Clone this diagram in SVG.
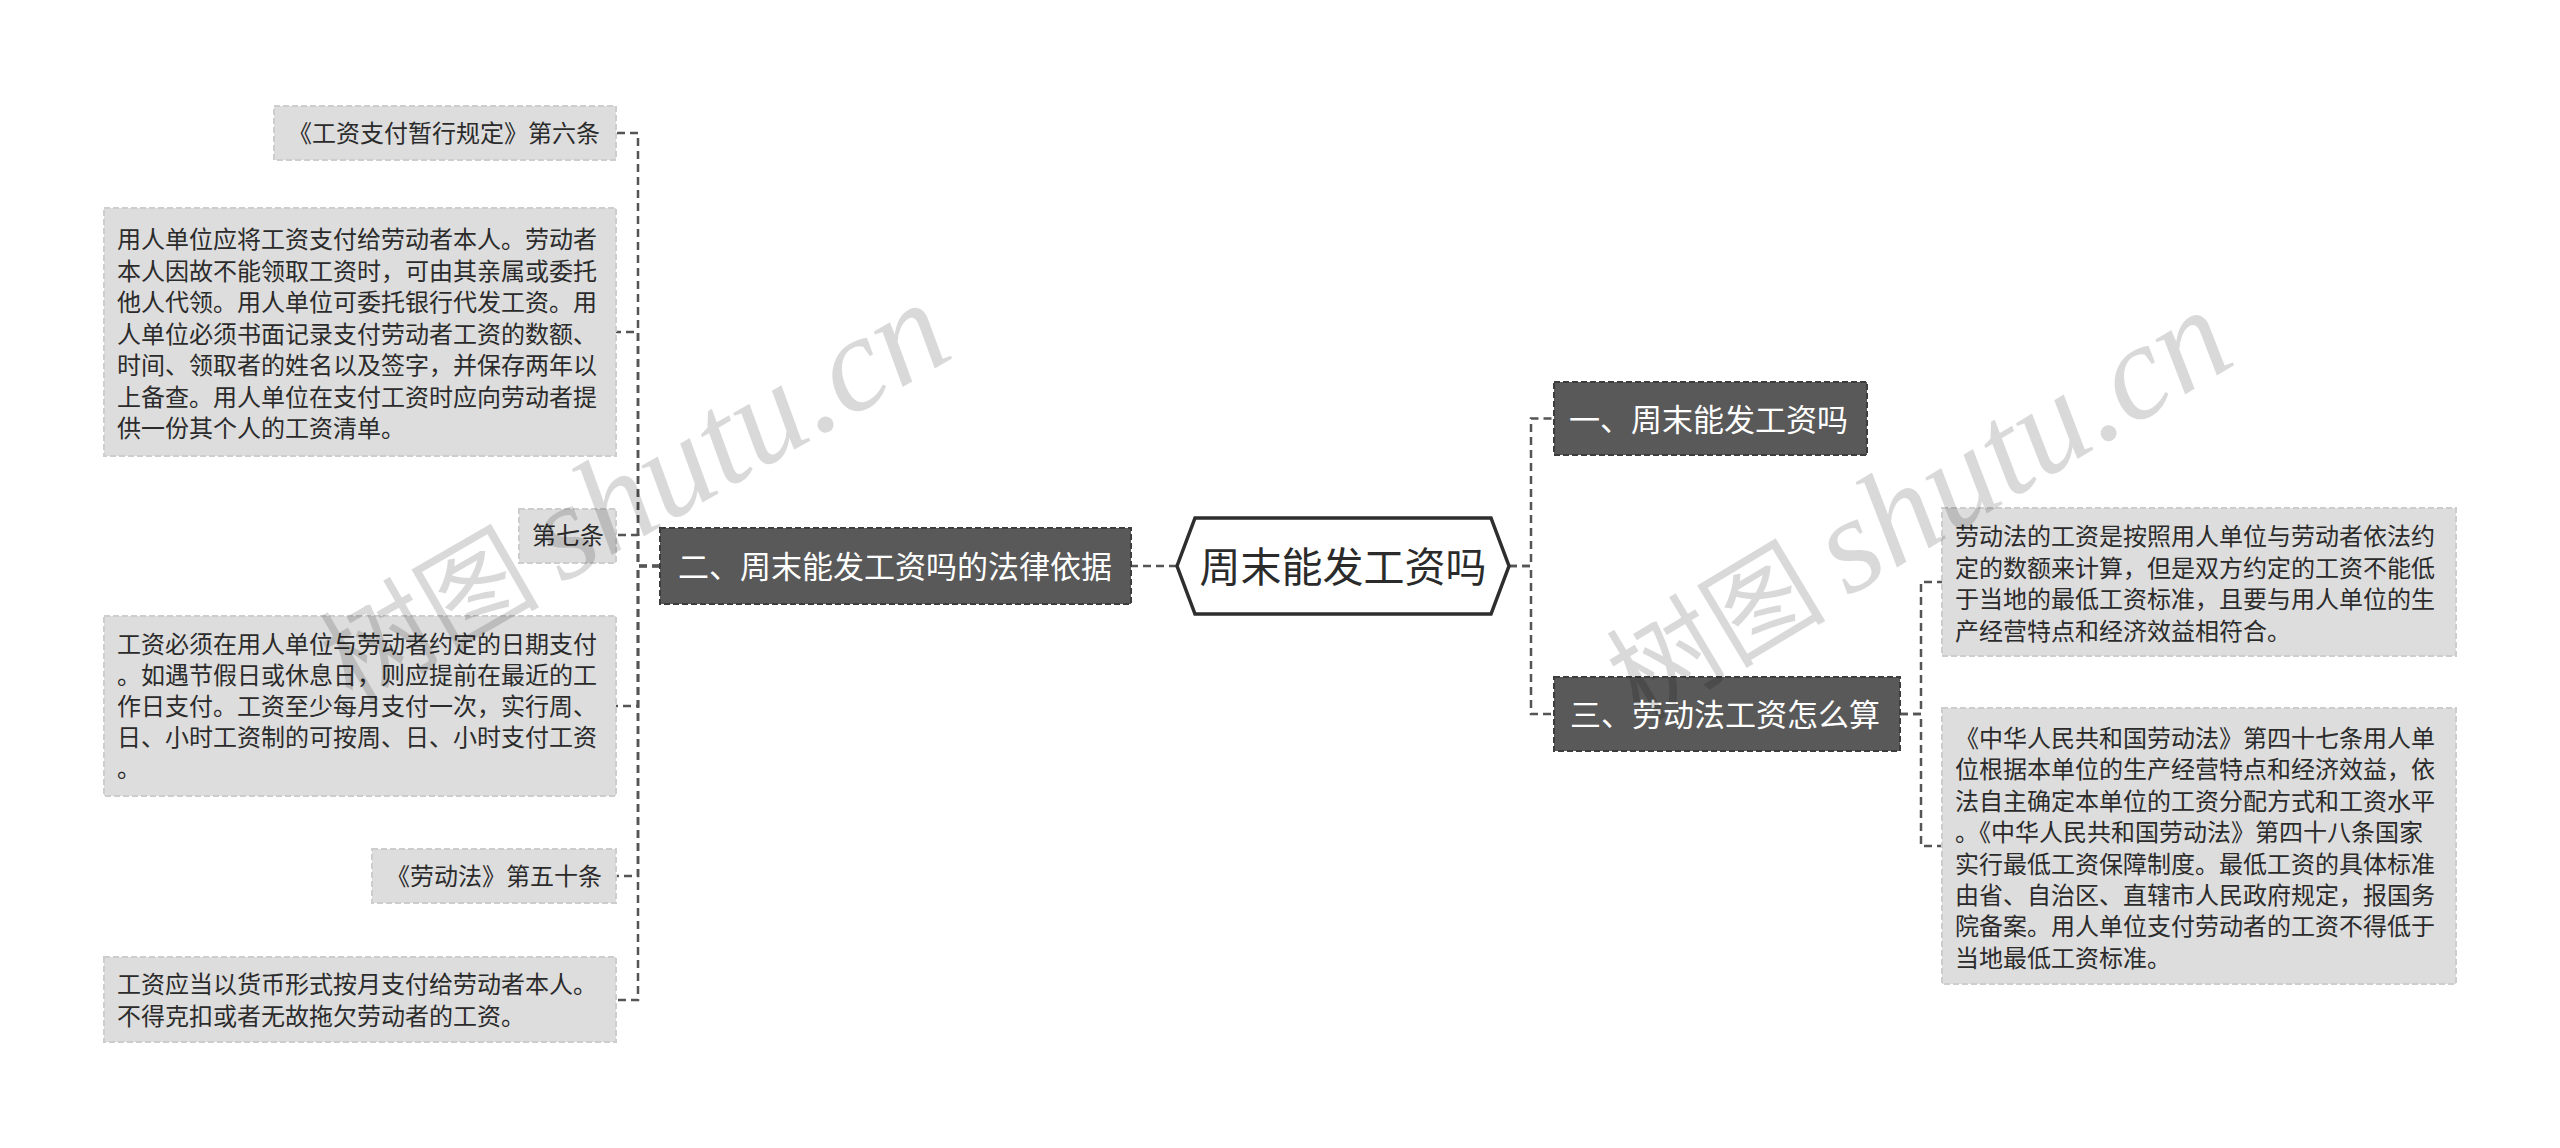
<svg xmlns="http://www.w3.org/2000/svg" width="2560" height="1148" viewBox="0 0 2560 1148">
<style>
.cn{font-family:"Noto Sans CJK SC","Noto Sans",sans-serif;}
.leaf rect{fill:#dddddd;stroke:#cdcdcd;stroke-width:2;stroke-dasharray:6 3;}
.leaf text{font-size:24px;fill:#2b2b2b;}
.br rect{fill:#595959;stroke:#3d3d3d;stroke-width:2;stroke-dasharray:6 3;}
.br text{font-size:31px;fill:#ffffff;}
.edge{fill:none;stroke:#555555;stroke-width:2.5;stroke-dasharray:8 5;}
.wm{fill:#000000;fill-opacity:0.15;}
</style>
<rect width="2560" height="1148" fill="#ffffff"/>

<g id="connectors">
<path class="edge" d="M1177,566 H1131"/>
<path class="edge" d="M1509,566 H1531 V418.5 H1554"/>
<path class="edge" d="M1509,566 H1531 V714 H1554"/>
<path class="edge" d="M660,566 H638 V133 H616"/>
<path class="edge" d="M660,566 H638 V332 H616"/>
<path class="edge" d="M660,566 H638 V535 H616"/>
<path class="edge" d="M660,566 H638 V706 H616"/>
<path class="edge" d="M660,566 H638 V876 H616"/>
<path class="edge" d="M660,566 H638 V1000 H616"/>
<path class="edge" d="M1900,714 H1921 V582 H1942"/>
<path class="edge" d="M1900,714 H1921 V846 H1942"/>
</g>

<g id="root">
<polygon points="1177,566 1195,518 1491,518 1509,566 1491,614 1195,614" fill="#ffffff" stroke="#2e2e2e" stroke-width="3.5"/>
<text class="cn" x="1343" y="582" font-size="41" fill="#2b2b2b" text-anchor="middle">周末能发工资吗</text>
</g>

<g id="branch1" class="br">
<rect x="1554" y="382" width="313" height="73"/>
<text class="cn" x="1569" y="431">一、周末能发工资吗</text>
</g>
<g id="branch2" class="br">
<rect x="660" y="528" width="471" height="76"/>
<text class="cn" x="678" y="578">二、周末能发工资吗的法律依据</text>
</g>
<g id="branch3" class="br">
<rect x="1554" y="677" width="346" height="74"/>
<text class="cn" x="1570" y="726">三、劳动法工资怎么算</text>
</g>

<g id="leaf1" class="leaf">
<rect x="274" y="106" width="342" height="54"/>
<text class="cn" x="288" y="142">《工资支付暂行规定》第六条</text>
</g>
<g id="leaf2" class="leaf">
<rect x="104" y="208" width="512" height="248"/>
<text class="cn" x="117" y="248">用人单位应将工资支付给劳动者本人。劳动者</text>
<text class="cn" x="117" y="279.5">本人因故不能领取工资时，可由其亲属或委托</text>
<text class="cn" x="117" y="311">他人代领。用人单位可委托银行代发工资。用</text>
<text class="cn" x="117" y="342.5">人单位必须书面记录支付劳动者工资的数额、</text>
<text class="cn" x="117" y="374">时间、领取者的姓名以及签字，并保存两年以</text>
<text class="cn" x="117" y="405.5">上备查。用人单位在支付工资时应向劳动者提</text>
<text class="cn" x="117" y="437">供一份其个人的工资清单。</text>
</g>
<g id="leaf3" class="leaf">
<rect x="519" y="509" width="97" height="54"/>
<text class="cn" x="532" y="544">第七条</text>
</g>
<g id="leaf4" class="leaf">
<rect x="104" y="616" width="512" height="180"/>
<text class="cn" x="117" y="653">工资必须在用人单位与劳动者约定的日期支付</text>
<text class="cn" x="117" y="684">。如遇节假日或休息日，则应提前在最近的工</text>
<text class="cn" x="117" y="715">作日支付。工资至少每月支付一次，实行周、</text>
<text class="cn" x="117" y="746">日、小时工资制的可按周、日、小时支付工资</text>
<text class="cn" x="117" y="777">。</text>
</g>
<g id="leaf5" class="leaf">
<rect x="372" y="849" width="244" height="54"/>
<text class="cn" x="386" y="885">《劳动法》第五十条</text>
</g>
<g id="leaf6" class="leaf">
<rect x="104" y="957" width="512" height="85"/>
<text class="cn" x="117" y="993">工资应当以货币形式按月支付给劳动者本人。</text>
<text class="cn" x="117" y="1025">不得克扣或者无故拖欠劳动者的工资。</text>
</g>
<g id="leaf7" class="leaf">
<rect x="1942" y="508" width="514" height="148"/>
<text class="cn" x="1955" y="545">劳动法的工资是按照用人单位与劳动者依法约</text>
<text class="cn" x="1955" y="576.5">定的数额来计算，但是双方约定的工资不能低</text>
<text class="cn" x="1955" y="608">于当地的最低工资标准，且要与用人单位的生</text>
<text class="cn" x="1955" y="639.5">产经营特点和经济效益相符合。</text>
</g>
<g id="leaf8" class="leaf">
<rect x="1942" y="708" width="514" height="276"/>
<text class="cn" x="1955" y="747">《中华人民共和国劳动法》第四十七条用人单</text>
<text class="cn" x="1955" y="778.4">位根据本单位的生产经营特点和经济效益，依</text>
<text class="cn" x="1955" y="809.8">法自主确定本单位的工资分配方式和工资水平</text>
<text class="cn" x="1955" y="841.2">。《中华人民共和国劳动法》第四十八条国家</text>
<text class="cn" x="1955" y="872.6">实行最低工资保障制度。最低工资的具体标准</text>
<text class="cn" x="1955" y="904">由省、自治区、直辖市人民政府规定，报国务</text>
<text class="cn" x="1955" y="935.4">院备案。用人单位支付劳动者的工资不得低于</text>
<text class="cn" x="1955" y="966.8">当地最低工资标准。</text>
</g>

<g id="watermarks">
<text class="wm" transform="translate(352,705) rotate(-30)" font-size="110"><tspan font-family="Noto Sans CJK SC,sans-serif">树图</tspan><tspan font-family="Liberation Serif,serif" font-style="italic" font-size="136" dx="22">shutu.cn</tspan></text>
<text class="wm" transform="translate(1640,722) rotate(-31)" font-size="110"><tspan font-family="Noto Sans CJK SC,sans-serif">树图</tspan><tspan font-family="Liberation Serif,serif" font-style="italic" font-size="136" dx="22">shutu.cn</tspan></text>
</g>
</svg>
